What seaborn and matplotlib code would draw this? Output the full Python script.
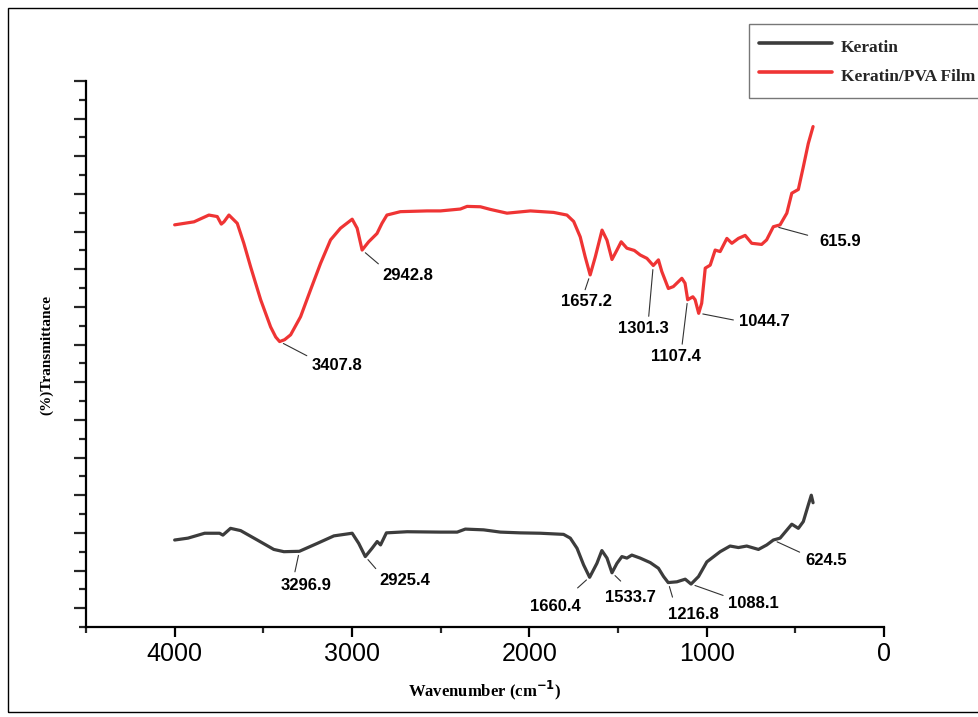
import numpy as np
import pandas as pd
import seaborn as sns
import matplotlib
matplotlib.use("Agg")
import matplotlib.pyplot as plt
from matplotlib.patches import Rectangle
from matplotlib.ticker import MultipleLocator, FixedLocator

# FTIR spectra (wavenumber in cm^-1, transmittance in arbitrary offset %)
keratin_wn = [4000, 3925, 3831, 3747, 3728, 3685, 3628, 3534, 3441, 3384, 3297, 3196,
              3102, 2999, 2962, 2925, 2887, 2858, 2839, 2806, 2689, 2501, 2407, 2361,
              2258, 2163, 2051, 1938, 1807, 1769, 1731, 1694, 1660, 1619, 1591, 1562,
              1534, 1506, 1478, 1450, 1422, 1375, 1318, 1272, 1243, 1217, 1168, 1121,
              1088, 1046, 999, 924, 868, 821, 774, 708, 661, 624, 586, 520, 483, 455,
              427, 410, 400]
keratin_t = [18.1, 18.6, 19.9, 19.9, 19.4, 21.2, 20.6, 18.1, 15.6, 15.0, 15.1, 17.2,
             19.2, 19.9, 17.2, 13.7, 15.9, 17.7, 16.8, 20.0, 20.3, 20.2, 20.2, 21.0,
             20.8, 20.2, 20.0, 19.9, 19.6, 18.6, 15.9, 11.5, 8.2, 11.9, 15.3, 13.3,
             9.4, 11.9, 13.7, 13.3, 14.1, 13.3, 12.1, 10.6, 8.4, 6.8, 7.0, 7.7,
             6.4, 8.4, 12.3, 15.0, 16.5, 16.1, 16.5, 15.6, 16.8, 18.1, 18.6, 22.3,
             21.2, 23.0, 27.4, 30.0, 28.0]

film_wn = [4000, 3891, 3807, 3760, 3737, 3722, 3694, 3647, 3610, 3572, 3515, 3459,
           3430, 3408, 3380, 3346, 3290, 3234, 3177, 3121, 3065, 2999, 2971, 2943,
           2906, 2859, 2831, 2803, 2727, 2577, 2501, 2389, 2351, 2276, 2220, 2126,
           1994, 1863, 1788, 1750, 1713, 1685, 1657, 1628, 1590, 1562, 1534, 1506,
           1482, 1450, 1408, 1375, 1337, 1301, 1272, 1253, 1216, 1188, 1140, 1122,
           1107, 1078, 1065, 1045, 1028, 1008, 980, 952, 924, 886, 858, 821, 783,
           746, 690, 662, 624, 586, 548, 520, 483, 455, 427, 400]
film_t = [101.8, 102.6, 104.4, 104.0, 102.0, 102.6, 104.4, 102.2, 96.9, 90.7, 81.9, 74.7,
          72.0, 70.8, 71.3, 72.6, 77.4, 84.5, 91.6, 97.8, 100.9, 103.3, 100.9, 95.1,
          97.3, 99.5, 102.2, 104.4, 105.3, 105.5, 105.5, 106.0, 106.7, 106.6, 105.9, 104.9,
          105.5, 105.1, 104.4, 102.7, 98.6, 93.3, 88.5, 93.3, 100.4, 97.7, 92.6, 95.1,
          97.3, 95.6, 95.0, 93.8, 92.9, 91.0, 92.5, 89.4, 84.9, 85.4, 87.6, 86.3,
          81.9, 82.7, 81.9, 78.3, 81.0, 90.3, 91.1, 95.1, 94.7, 98.2, 96.9, 98.2, 99.0,
          96.9, 96.6, 97.8, 101.3, 101.8, 104.9, 110.2, 111.2, 117.2, 123.4, 127.9]

series_names = ["Keratin", "Keratin/PVA Film"]
keratin_peaks = [3296.9, 2925.4, 1660.4, 1533.7, 1216.8, 1088.1, 624.5]
film_peaks = [3407.8, 2942.8, 1657.2, 1301.3, 1107.4, 1044.7, 615.9]

x_ticks = [4000, 3000, 2000, 1000, 0]

df = pd.concat([
    pd.DataFrame({"wn": keratin_wn, "t": keratin_t, "sample": series_names[0]}),
    pd.DataFrame({"wn": film_wn, "t": film_t, "sample": series_names[1]}),
], ignore_index=True)

sns.set_style("ticks")
plt.rcParams["font.family"] = ["Liberation Sans", "DejaVu Sans"]

W, H = 979, 717
fig = plt.figure(figsize=(W / 100, H / 100), dpi=100)
ax = fig.add_axes([86 / W, 1 - 627 / H, (884 - 86) / W, (627 - 81) / H])

colors = {"Keratin": "#3c3c3c", "Keratin/PVA Film": "#ef3434"}
sns.lineplot(data=df, x="wn", y="t", hue="sample", hue_order=series_names,
             palette=colors, estimator=None, sort=False, lw=2.3, legend=False, ax=ax)
for ln in ax.lines:
    ln.set_solid_joinstyle("round")
    ln.set_solid_capstyle("round")

ax.set_xlim(4500, 0)
ax.set_ylim(-5, 140)
ax.xaxis.set_major_locator(FixedLocator(x_ticks))
ax.set_xticklabels([str(v) for v in x_ticks])
ax.xaxis.set_minor_locator(MultipleLocator(500))
ax.yaxis.set_major_locator(MultipleLocator(10))
ax.yaxis.set_minor_locator(MultipleLocator(5))
ax.set_yticklabels([])
ax.tick_params(axis="x", which="major", direction="out", length=7.5, width=1.6,
               labelsize=18, pad=3.5, colors="black")
ax.tick_params(axis="x", which="minor", direction="out", length=4.5, width=1.6)
ax.tick_params(axis="y", which="major", direction="out", length=9, width=1.6)
ax.tick_params(axis="y", which="minor", direction="out", length=5, width=1.6)
for side in ("top", "right"):
    ax.spines[side].set_visible(False)
for side in ("left", "bottom"):
    ax.spines[side].set_linewidth(1.6)
    ax.spines[side].set_color("black")

ax.set_xlabel("")
ax.set_ylabel("")
serif_bold = dict(family=["Liberation Serif", "DejaVu Serif"], weight="bold", color="black")
fig.text(485 / W, 1 - 690 / H, r"Wavenumber (cm$^{\mathbf{-1}}$)", ha="center", va="center",
         fontsize=12, **serif_bold)
fig.text(47 / W, 1 - 355 / H, "(%)Transmittance", ha="center", va="center",
         rotation=90, fontsize=11, **serif_bold)

# peak labels: text offset (px), leader attachment on the text box, gap at text
film_style = [((57, -24), (0.0, 1.0), 1), ((46, -25), (0.0, 1.0), 1),
              ((-4, -27), (0.45, 1.0), 1), ((-10, -63), (0.6, 1.0), 1),
              ((-12, -57), (0.62, 1.0), 1), ((66, -8), (0.0, 0.5), 2),
              ((65, -15), (0.0, 0.7), 6)]
keratin_style = [((7, -34), (0.25, 1.0), 2), ((40, -24), (0.02, 0.9), 1),
                 ((-34, -29), (0.7, 1.0), 8), ((18, -25), (0.5, 1.0), 6),
                 ((25, -32), (0.15, 1.0), 5), ((62, -19), (0.0, 0.9), 1),
                 ((53, -20), (0.0, 0.85), 2)]


def label_peaks(wn, t, peaks, styles):
    xs = np.asarray(wn)[::-1]
    ys = np.asarray(t)[::-1]
    for pk, (off, rel, gap) in zip(peaks, styles):
        yv = np.interp(pk, xs, ys)
        ax.annotate(f"{pk:.1f}", xy=(pk, yv), xytext=off, textcoords="offset pixels",
                    ha="center", va="center", fontsize=12, fontweight="bold",
                    color="black",
                    arrowprops=dict(arrowstyle="-", color="#333333", lw=0.8,
                                    shrinkA=gap, shrinkB=3, relpos=rel))


label_peaks(film_wn, film_t, film_peaks, film_style)
label_peaks(keratin_wn, keratin_t, keratin_peaks, keratin_style)

leg = ax.legend(handles=ax.lines[:2], labels=series_names, loc="upper left",
                bbox_to_anchor=(749 / W, 1 - 98 / H, 320 / W, 74 / H),
                bbox_transform=fig.transFigure, mode="expand",
                prop=dict(family=["Liberation Serif", "DejaVu Serif"], weight="bold", size=12.5),
                handlelength=4.2, handletextpad=0.5, handleheight=1.8, labelspacing=0.25,
                borderpad=0.6, borderaxespad=0, fancybox=False, framealpha=1,
                edgecolor="#777777")
leg.get_frame().set_linewidth(1.0)
for h in leg.legend_handles:
    h.set_linewidth(2.6)

# outer frame around the whole figure
fig.patches.append(Rectangle((8 / W, 5 / H), 1.0, 1 - 13 / H, transform=fig.transFigure,
                             fill=False, edgecolor="black", lw=1.0, clip_on=False))

fig.savefig("out.png", dpi=100, facecolor="white")
